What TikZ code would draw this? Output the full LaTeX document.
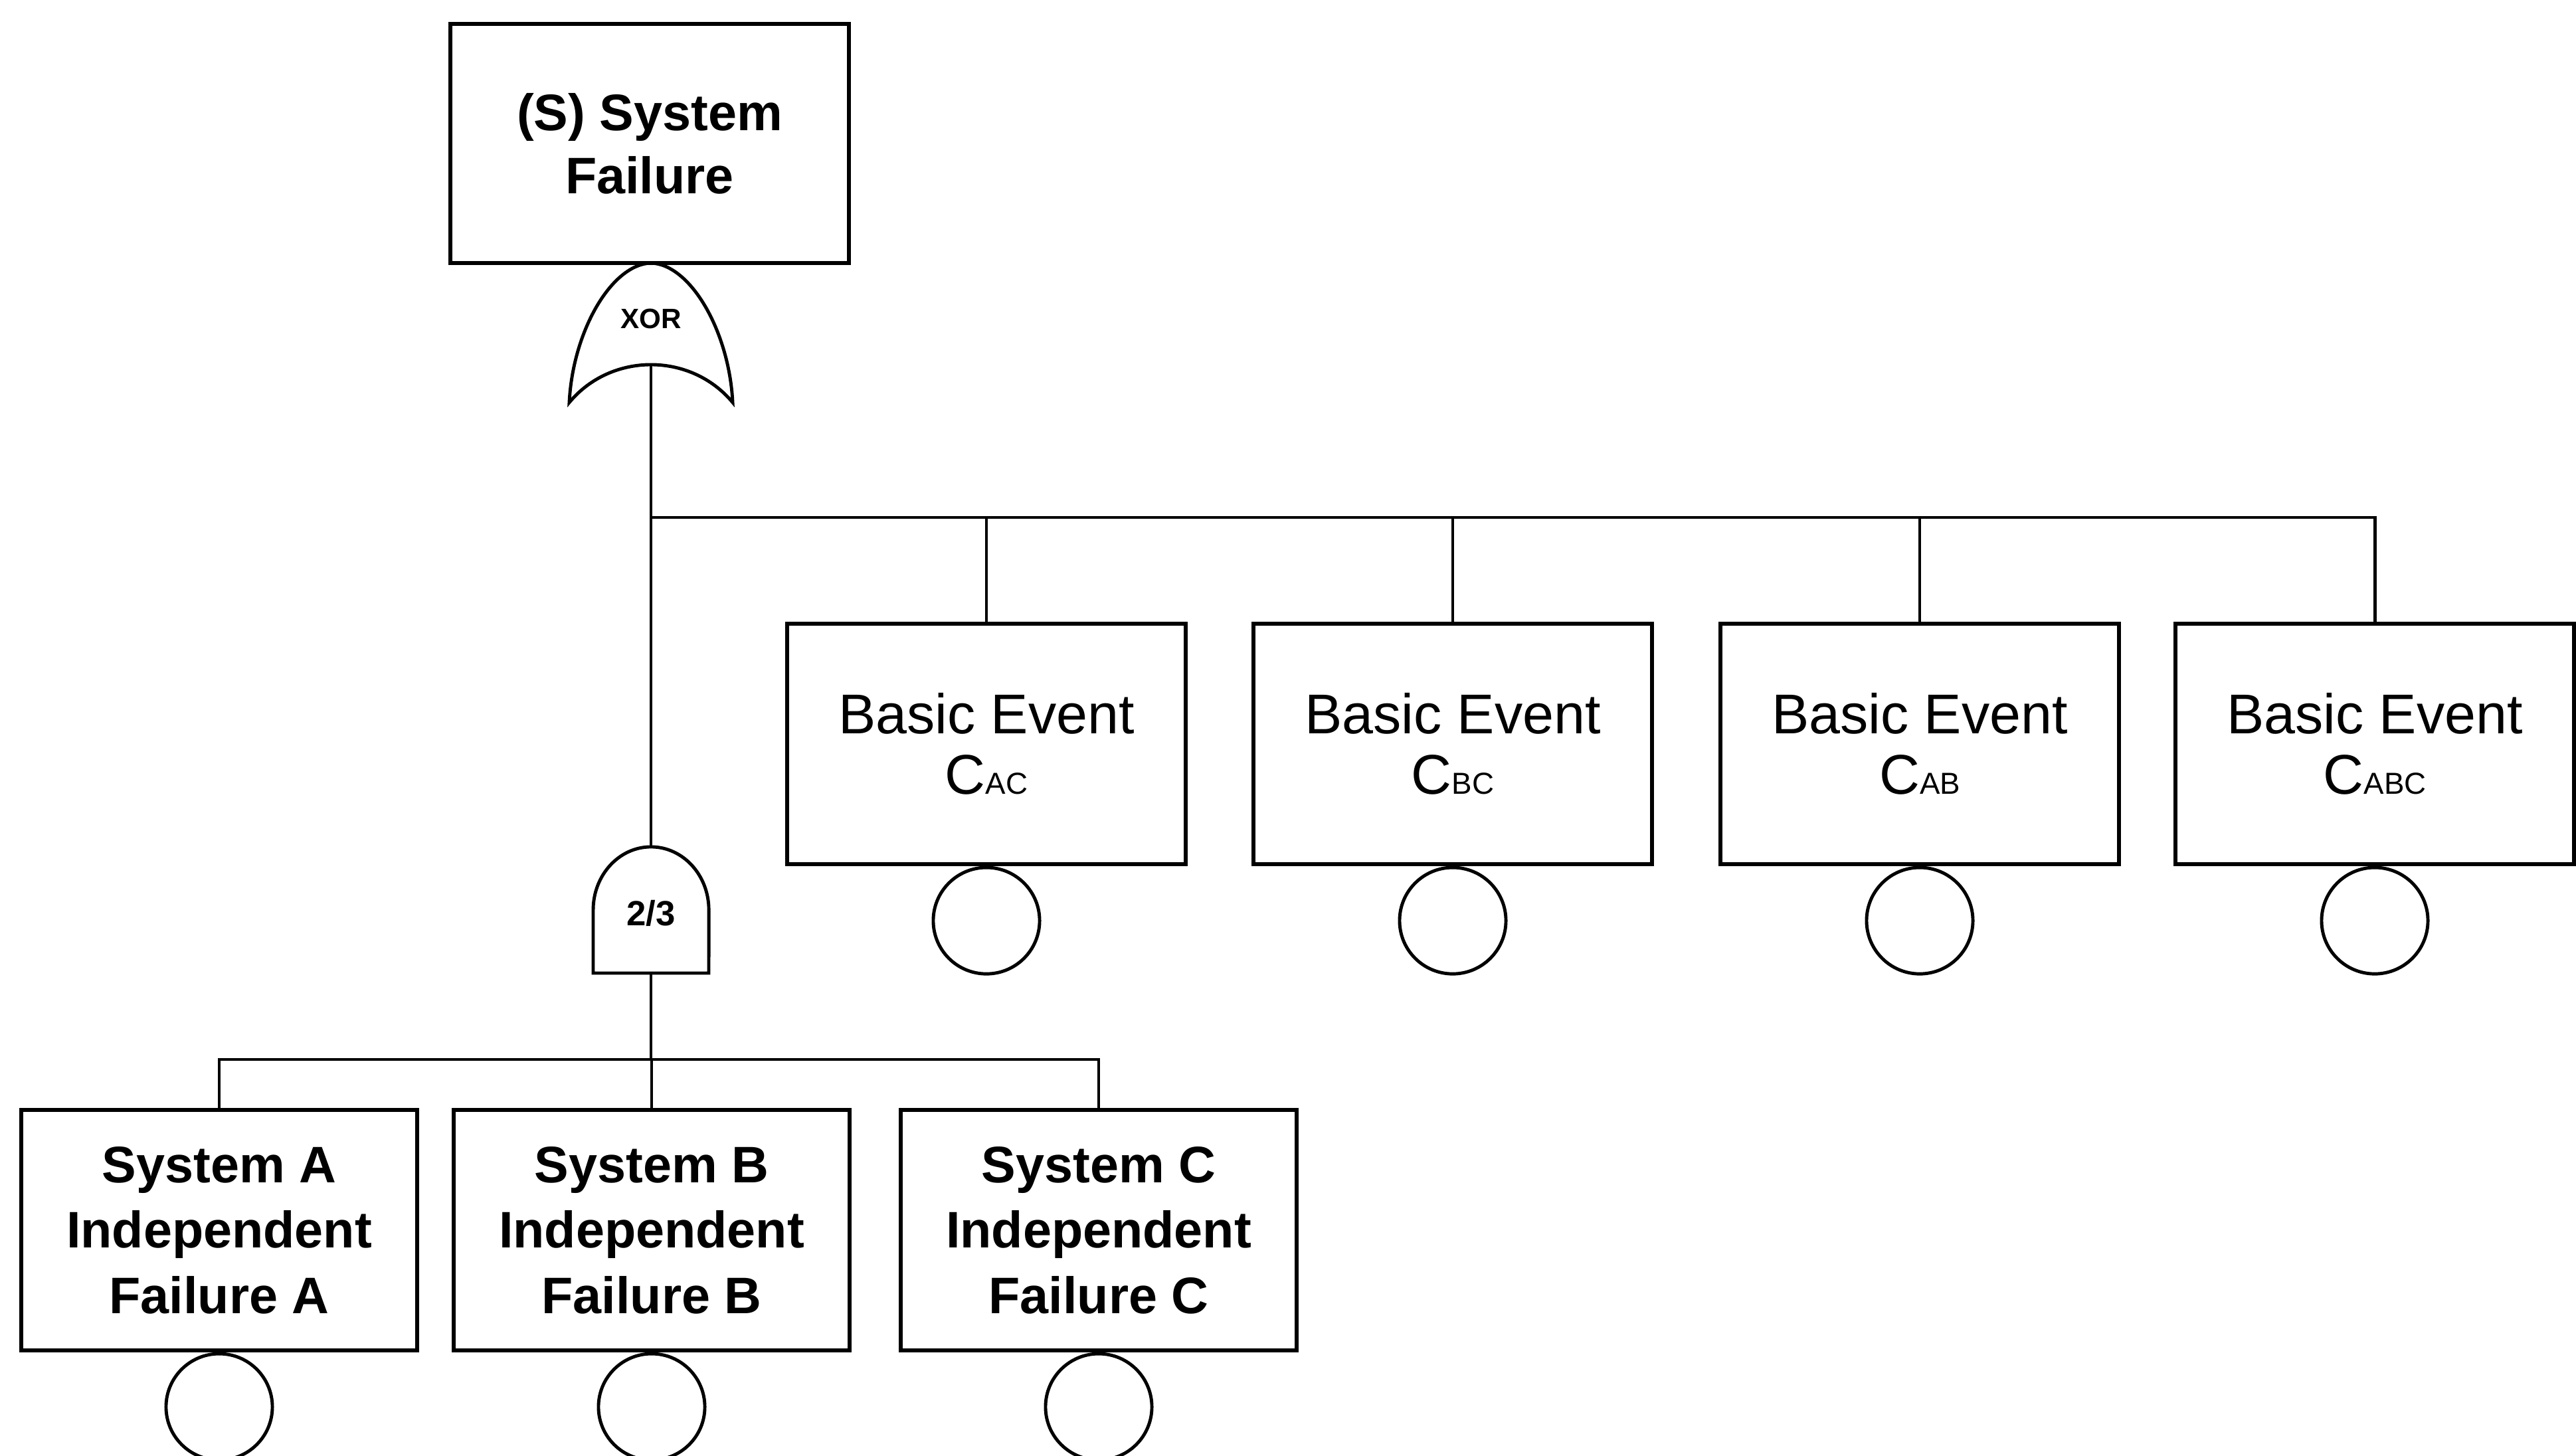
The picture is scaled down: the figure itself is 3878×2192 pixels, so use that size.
\documentclass[tikz,border=0pt]{standalone}
\usepackage{fontspec}
\setmainfont{Liberation Sans}
\newcommand{\evsub}[1]{{\fontsize{13}{13}\selectfont #1}}
\begin{document}
\begin{tikzpicture}[x=0.01cm, y=-0.01cm,
  wire/.style={line width=1.4pt},
  topbox/.style={draw, line width=1.7pt, minimum width=5.99cm, minimum height=3.59cm, align=center, font=\fontsize{22}{27}\selectfont\bfseries},
  sysbox/.style={draw, line width=1.7pt, minimum width=5.96cm, minimum height=3.61cm, align=center, font=\fontsize{22}{28}\selectfont\bfseries},
  basicbox/.style={draw, line width=1.7pt, minimum width=6cm, minimum height=3.61cm, align=center, font=\fontsize{24}{26}\selectfont},
  basiccirc/.style={draw, circle, line width=1.4pt, minimum size=1.6cm, inner sep=0pt, anchor=north},
  gatelbl/.style={font=\fontsize{12}{12}\selectfont\bfseries}]
\useasboundingbox (0,0) rectangle (3878,2192);

\node[topbox] (top) at (978,216) {(S) System\\Failure};

% xor gate
\node[gatelbl] (xor) at (980,480) {XOR};
\draw[wire] (857,606) .. controls (862,500) and (920,398) .. (980,396)
  .. controls (1040,398) and (1098,500) .. (1103,606)
  .. controls (1040,530) and (920,530) .. (857,606) -- cycle;
\coordinate (xorout) at (980,549);
\coordinate (split) at (980,779);

% 2/3 gate
\draw[wire] (893,1465) -- (893,1370) arc[start angle=180, end angle=0, x radius=0.87cm, y radius=0.95cm] -- (1067,1465) -- cycle;
\node[gatelbl, font=\fontsize{15}{15}\selectfont\bfseries] (kofn) at (980,1375) {2/3};
\coordinate (kofntop) at (980,1275);
\coordinate (kofnout) at (980,1465);
\coordinate (split2) at (980,1595);

\node[basicbox] (be1) at (1485,1120) {Basic Event\\C\evsub{AC}};
\node[basicbox] (be2) at (2187,1120) {Basic Event\\C\evsub{BC}};
\node[basicbox] (be3) at (2890,1120) {Basic Event\\C\evsub{AB}};
\node[basicbox] (be4) at (3575,1120) {Basic Event\\C\evsub{ABC}};
\foreach \n in {1,...,4}
  \node[basiccirc] (bc\n) at (be\n.south) {};

\node[sysbox] (sysa) at (330,1852) {System A\\Independent\\Failure A};
\node[sysbox] (sysb) at (981,1852) {System B\\Independent\\Failure B};
\node[sysbox] (sysc) at (1654,1852) {System C\\Independent\\Failure C};
\foreach \s in {a,b,c}
  \node[basiccirc] (sc\s) at (sys\s.south) {};

\draw[wire] (xorout) -- (kofntop);
\foreach \n in {1,...,4}
  \draw[wire] (split) -| (be\n.north);
\draw[wire] (kofnout) -- (split2);
\foreach \s in {a,b,c}
  \draw[wire] (split2) -| (sys\s.north);
\end{tikzpicture}
\end{document}
